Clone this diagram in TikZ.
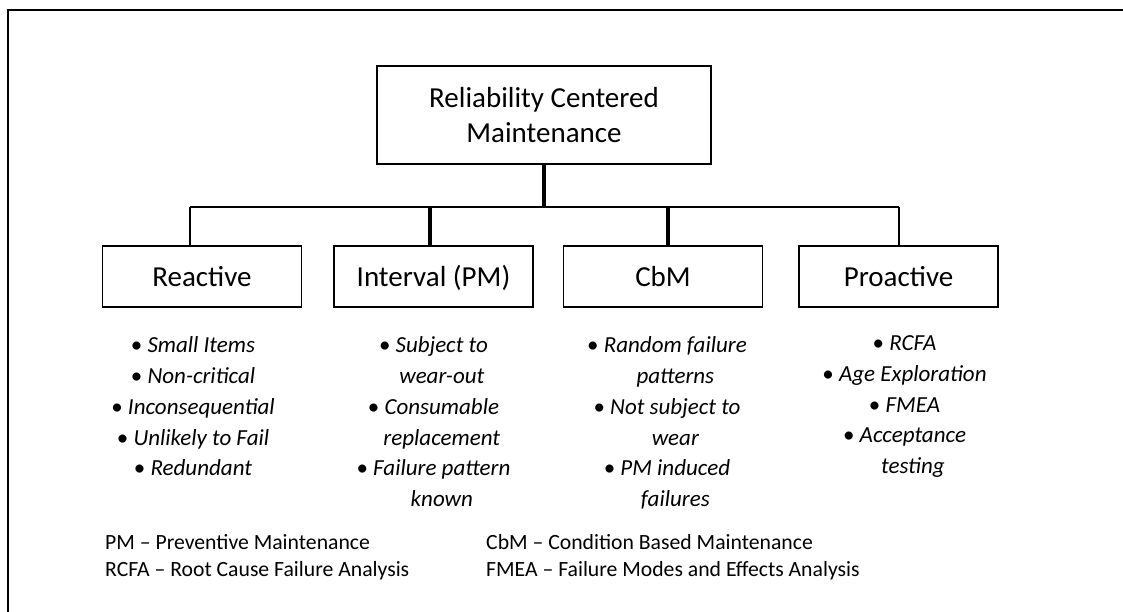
\documentclass[tikz,border=0pt]{standalone}
\usepackage{fontspec}
\setmainfont{Carlito}
\usetikzlibrary{positioning}
\tikzset{
  box/.style={draw=black, line width=1.5pt, minimum width=199pt, minimum height=61pt,
    inner sep=0pt, text height=21pt, text depth=2pt, font=\fontsize{29}{35}\selectfont},
  items/.style={align=center, inner sep=0pt, font=\fontsize{23}{30.7}\selectfont\itshape},
  legend/.style={align=left, inner sep=0pt, anchor=north west, font=\fontsize{21.7}{27}\selectfont},
  thin link/.style={line width=1.5pt},
  thick link/.style={line width=4pt},
}
\newcommand{\bul}{{\upshape •}~}
\newcommand{\cont}{\hphantom{\bul}}
\begin{document}
\begin{tikzpicture}[x=1pt,y=-1pt]
    \useasboundingbox (0,0) rectangle (1123,612);
    % frame
    \draw[line width=2pt] (8,612) -- (8,10) -- (1123,10);
    % boxes
    \node[box, text height=, text depth=, align=center, minimum width=334pt, minimum height=98pt] (rcm) at (544,115) {Reliability Centered\\Maintenance};
    \node[box] (reactive) at (202,276.5) {Reactive};
    \node[box, right=31pt of reactive] (interval) {Interval (PM)};
    \node[box, right=29pt of interval] (cbm) {CbM};
    \node[box, right=35pt of cbm] (proactive) {Proactive};
    % connectors
    \coordinate (busL) at (190,207);
    \coordinate (busR) at (899,207);
    \draw[line width=2pt] (busL) -- (busR);
    \draw[thick link] (rcm.south) -- (rcm.south |- busL);
    \draw[thin link] (busL) -- (busL |- reactive.north);
    \draw[thick link] ([xshift=-4pt]interval.north |- busL) -- ([xshift=-4pt]interval.north);
    \draw[thick link] ([xshift=5pt]cbm.north |- busL) -- ([xshift=5pt]cbm.north);
    \draw[thin link] (busR) -- (busR |- proactive.north);
    % lists
    \node[items, below=29pt of reactive, xshift=-9pt] (reactiveL) {\bul Small Items\\ \bul Non-critical\\ \bul Inconsequential\\ \bul Unlikely to Fail\\ \bul Redundant};
    \node[items, below=29pt of interval] (intervalL) {\bul Subject to\\ \cont wear-out\\ \bul Consumable\\ \cont replacement\\ \bul Failure pattern\\ \cont known};
    \node[items, below=29pt of cbm, xshift=4pt] (cbmL) {\bul Random failure\\ \cont patterns\\ \bul Not subject to\\ \cont wear\\ \bul PM induced\\ \cont failures};
    \node[items, below=28pt of proactive, xshift=6pt] (proactiveL) {\bul RCFA\\ \bul Age Exploration\\ \bul FMEA\\ \bul Acceptance\\ \cont testing};
    % abbreviations
    \node[legend] (legendL) at (105,534) {PM -- Preventive Maintenance\\RCFA -- Root Cause Failure Analysis};
    \node[legend] (legendR) at (486,534) {CbM -- Condition Based Maintenance\\FMEA -- Failure Modes and Effects Analysis};
\end{tikzpicture}
\end{document}
